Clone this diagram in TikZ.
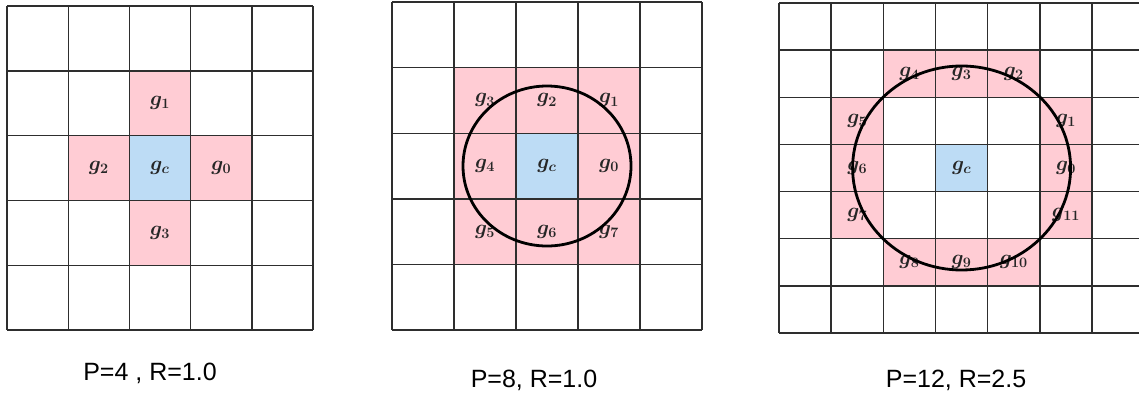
\documentclass[tikz,border=0pt]{standalone}
\usepackage{fontspec}
\newfontfamily\labfont{Liberation Sans}
\definecolor{cellpink}{RGB}{255,204,212}
\definecolor{cellblue}{RGB}{189,220,245}
\tikzset{
  gridline/.style={draw=black!82, line width=1.4pt},
  pinkcell/.style={fill=cellpink},
  bluecell/.style={fill=cellblue},
  glabel/.style={font=\fontsize{22}{24}\selectfont\boldmath, inner sep=0pt, text=black!85},
  caption/.style={font=\labfont\fontsize{25}{30}\selectfont, anchor=base, inner sep=0pt},
  ring/.style={draw=black, line width=2.8pt},
}
\begin{document}
\begin{tikzpicture}[x=1pt,y=-1pt]
\useasboundingbox (0,0) rectangle (1139,397);
\clip (0,0) rectangle (1139,397);
% ---------------- Grid 1 ----------------
\begin{scope}[shift={(7pt,-6pt)}, x=61.2pt, y=-64.8pt]
  \foreach \i/\j in {2/1,1/2,3/2,2/3} \fill[pinkcell] (\i,\j) rectangle ++(1,1);
  \fill[bluecell] (2,2) rectangle ++(1,1);
  \foreach \k in {0,...,5} {
    \draw[gridline] (\k,0) -- (\k,5);
    \draw[gridline] (0,\k) -- (5,\k);
  }
  \node[glabel] (a1) at (2.5,1.5) {$g_1$};
  \node[glabel] (a2) at (1.5,2.5) {$g_2$};
  \node[glabel] (ac) at (2.5,2.5) {$g_c$};
  \node[glabel] (a0) at (3.5,2.5) {$g_0$};
  \node[glabel] (a3) at (2.5,3.5) {$g_3$};
\end{scope}
% ---------------- Grid 2 ----------------
\begin{scope}[shift={(392pt,-2pt)}, x=62pt, y=-65.6pt]
  \fill[pinkcell] (1,1) rectangle (4,4);
  \fill[bluecell] (2,2) rectangle ++(1,1);
  \foreach \k in {0,...,5} {
    \draw[gridline] (\k,0) -- (\k,5);
    \draw[gridline] (0,\k) -- (5,\k);
  }
  \node[glabel] (b3) at (1.5,1.5) {$g_3$};
  \node[glabel] (b2) at (2.5,1.5) {$g_2$};
  \node[glabel] (b1) at (3.5,1.5) {$g_1$};
  \node[glabel] (b4) at (1.5,2.5) {$g_4$};
  \node[glabel] (bc) at (2.5,2.5) {$g_c$};
  \node[glabel] (b0) at (3.5,2.5) {$g_0$};
  \node[glabel] (b5) at (1.5,3.5) {$g_5$};
  \node[glabel] (b6) at (2.5,3.5) {$g_6$};
  \node[glabel] (b7) at (3.5,3.5) {$g_7$};
  \draw[ring] (bc) ellipse [x radius=84pt, y radius=80pt];
\end{scope}
% ---------------- Grid 3 ----------------
\begin{scope}[shift={(779pt,-3pt)}, x=52.17pt, y=-47.14pt]
  \foreach \i/\j in {2/1,3/1,4/1,1/2,1/3,1/4,5/2,5/3,5/4,2/5,3/5,4/5}
    \fill[pinkcell] (\i,\j) rectangle ++(1,1);
  \fill[bluecell] (3,3) rectangle ++(1,1);
  \foreach \k in {0,...,6} \draw[gridline] (\k,0) -- (\k,7);
  \foreach \k in {0,...,7} \draw[gridline] (0,\k) -- (7,\k);
  \node[glabel] (c4) at (2.5,1.5) {$g_4$};
  \node[glabel] (c3) at (3.5,1.5) {$g_3$};
  \node[glabel] (c2) at (4.5,1.5) {$g_2$};
  \node[glabel] (c5) at (1.5,2.5) {$g_5$};
  \node[glabel] (c6) at (1.5,3.5) {$g_6$};
  \node[glabel] (c7) at (1.5,4.5) {$g_7$};
  \node[glabel] (c1) at (5.5,2.5) {$g_1$};
  \node[glabel] (c0) at (5.5,3.5) {$g_0$};
  \node[glabel] (c11) at (5.5,4.5) {$g_{11}$};
  \node[glabel] (c8) at (2.5,5.5) {$g_8$};
  \node[glabel] (c9) at (3.5,5.5) {$g_9$};
  \node[glabel] (c10) at (4.5,5.5) {$g_{10}$};
  \node[glabel] (cc) at (3.5,3.5) {$g_c$};
  \draw[ring] (cc) ellipse [x radius=109pt, y radius=102pt];
\end{scope}
% ---------------- Captions ----------------
\node[caption] (capA) at (150,380) {P=4 , R=1.0};
\node[caption] (capB) at (534,387) {P=8, R=1.0};
\node[caption] (capC) at (956,387) {P=12, R=2.5};
\end{tikzpicture}
\end{document}
